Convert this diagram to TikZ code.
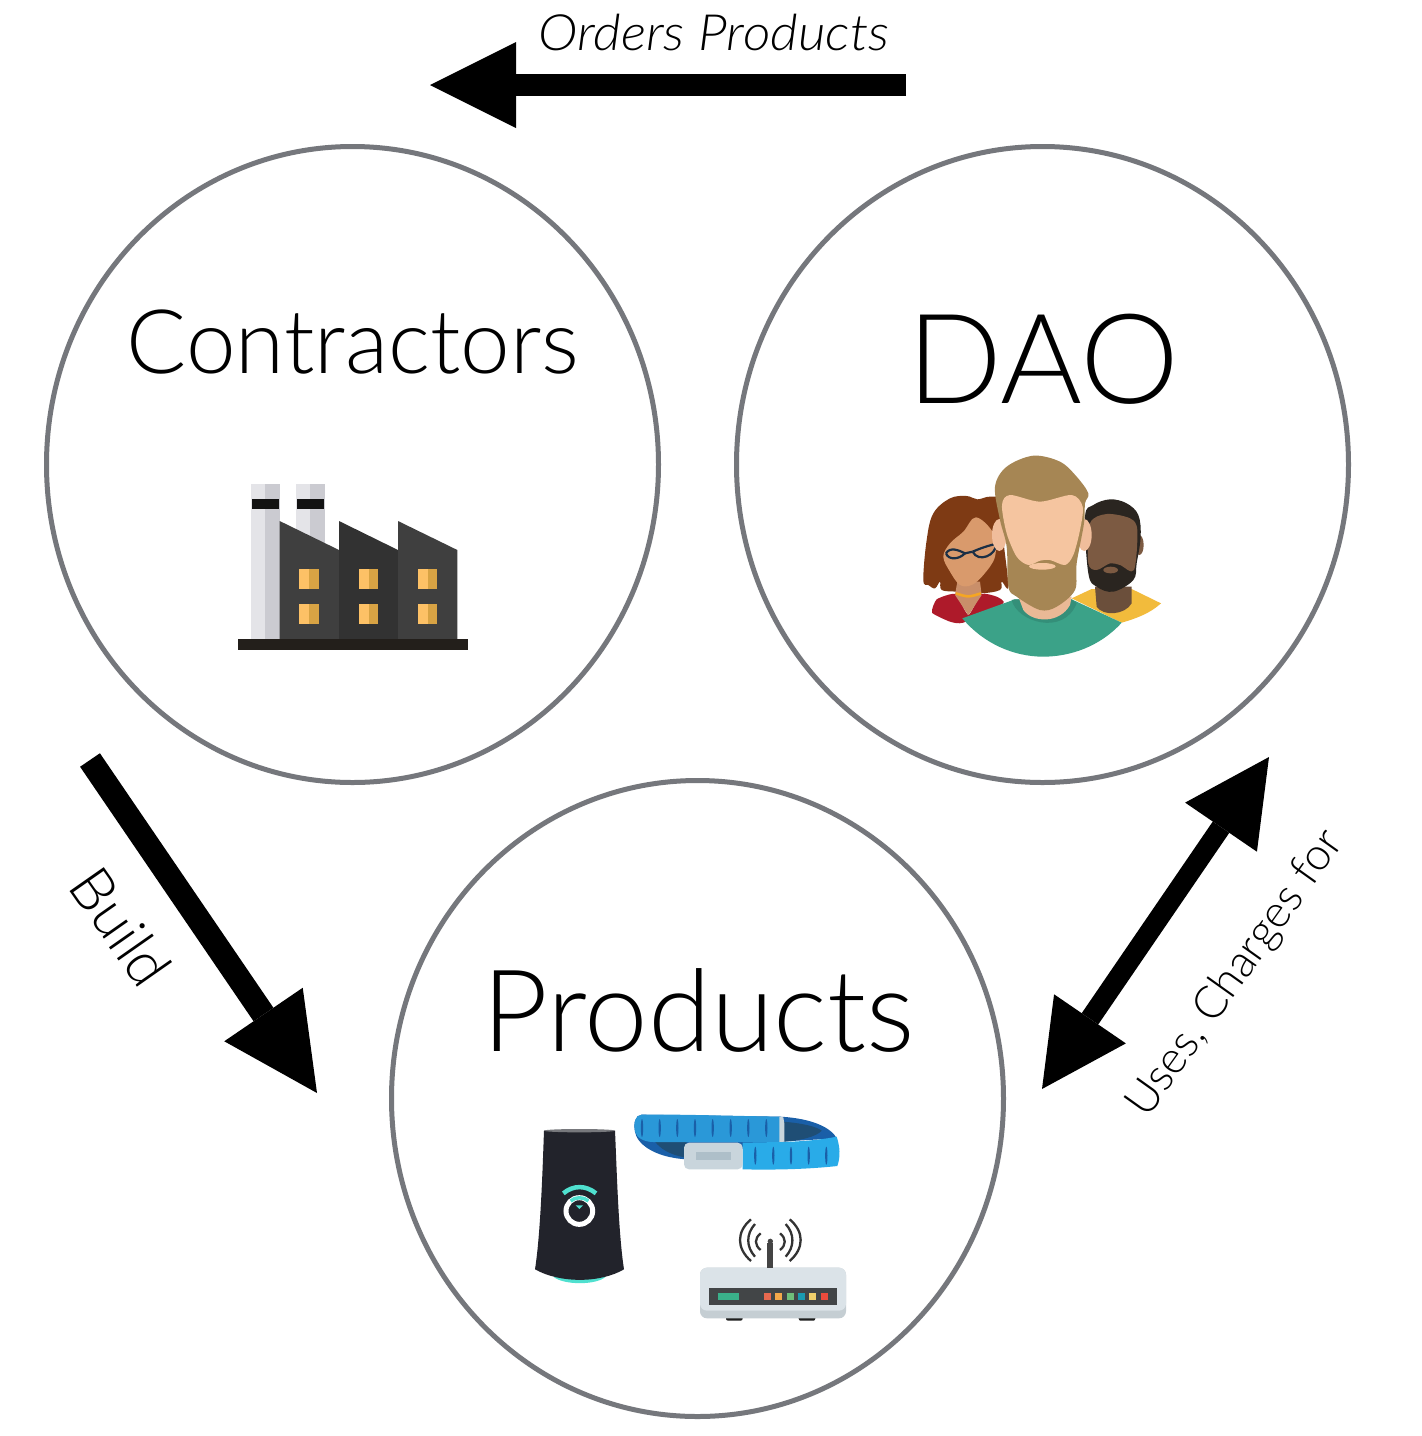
\documentclass[tikz,border=0pt]{standalone}
\usepackage{fontspec}
\setmainfont{Lato Light}
\usetikzlibrary{arrows.meta,shapes.geometric}
\definecolor{ring}{HTML}{75777C}
\definecolor{wface}{HTML}{D99A6C}
\tikzset{
 circ/.style={ellipse,draw=ring,line width=5pt,minimum width=612pt,minimum height=636pt,inner sep=0pt},
 bigarrow/.style={line width=#1,draw=black},
 lab/.style={inner sep=0pt,text=black},
 px/.style={shift={#1},scale=0.33333},
 hexc/.code={\definecolor{tmpc}{HTML}{#1}\pgfkeysalso{color=tmpc}},
}
\newcommand{\fs}[1]{\fontsize{#1}{#1}\selectfont}
\begin{document}
\begin{tikzpicture}[x=1pt,y=-1pt]
\useasboundingbox (0,0) rectangle (1422,1436);
\fill[white] (0,0) rectangle (1422,1436);
\node[circ] (contractors) at (352.5,464.5) {};
\node[circ] (dao) at (1042.5,464.5) {};
\node[circ] (products) at (697.5,1098.5) {};
\node[lab,anchor=base] (tcon) at (353,373) {\fs{89}Contractors};
\node[lab,anchor=base] (tdao) at (1043,403) {\fs{125}DAO};
\node[lab,anchor=base] (tpro) at (699,1051) {\fs{114}Products};
\node[lab] (torders) at (714,33) {\fs{50}\itshape\scalebox{1.07}[1]{Orders Products}};
\node[lab,rotate=-55] (tbuild) at (121,927) {\fs{59}Build};
\node[lab,rotate=54.5] (tuses) at (1236,974) {\fs{45}Uses, Charges for};
% arrows
\coordinate (a1) at (906,85); \coordinate (a2) at (430,85);
\coordinate (b1) at (90,760); \coordinate (b2) at (317,1093);
\coordinate (c1) at (1269,757); \coordinate (c2) at (1042,1089);
\draw[bigarrow=22pt,-{Triangle[length=86pt,width=86pt,line width=0pt]}] (a1) -- (a2);
\draw[bigarrow=24pt,-{Triangle[length=95pt,width=95pt,line width=0pt]}] (b1) -- (b2);
\draw[bigarrow=20pt,{Triangle[length=85pt,width=87pt,line width=0pt]}-{Triangle[length=85pt,width=87pt,line width=0pt]}] (c1) -- (c2);
% factory
\begin{scope}[px={(220,470)}]
 \foreach \x in {0,135}{
  \fill[hexc=E4E4E8] (93+\x,43) rectangle (136+\x,508);
  \fill[hexc=CBCBD1] (136+\x,43) rectangle (179+\x,508);
  \fill[hexc=121212] (95+\x,88) rectangle (178+\x,116);
 }
 \fill[hexc=3F3F3F] (179,153) -- (357,240) -- (357,508) -- (179,508) -- cycle;
 \fill[hexc=323232] (357,153) -- (534,240) -- (534,508) -- (357,508) -- cycle;
 \fill[hexc=3F3F3F] (534,153) -- (712,240) -- (712,508) -- (534,508) -- cycle;
 \fill[hexc=231F1B] (55,508) rectangle (743,541);
 \foreach \x in {0,177.5,355}\foreach \y in {297,403}{
  \fill[hexc=FDC166] (238+\x,\y) rectangle (268+\x,\y+59);
  \fill[hexc=D8A344] (268+\x,\y) rectangle (297+\x,\y+59);
 }
\end{scope}
% people
\begin{scope}[px={(900,440)}]
 % woman
 \fill[hexc=7E3A14] plot[smooth cycle,tension=0.6] coordinates {(70,420) (80,300) (100,220) (150,175) (200,168) (232,178) (270,170) (300,185) (310,300) (325,440) (305,425) (300,450) (240,460) (170,455) (125,450) (120,425) (105,445) (85,435)};
 \fill[hexc=C98F6A] (172,425) -- (240,425) -- (245,465) -- (205,525) -- (165,465) -- cycle;
 \fill[wface] plot[smooth cycle,tension=0.6] coordinates {(228,232) (190,275) (150,310) (130,350) (150,395) (180,435) (215,435) (250,405) (285,350) (280,280)};
 \fill[hexc=AE1A2A] plot[smooth cycle,tension=0.3] coordinates {(96,518) (110,478) (165,462) (205,525) (245,462) (290,470) (310,490) (190,548) (150,545)};
 \fill[hexc=C98F6A] (165,465) -- (245,465) -- (205,525) -- cycle;
 \draw[hexc=F5A623,line width=2.6pt] (167,460) .. controls (205,472) .. (243,460);
 \draw[hexc=1B2F45,line width=2.2pt] (138,340) .. controls (150,320) and (175,330) .. (195,340) .. controls (175,360) and (145,360) .. (138,340);
 \draw[hexc=1B2F45,line width=2.2pt] (218,335) .. controls (240,325) and (270,315) .. (288,312) .. controls (290,345) and (235,370) .. (218,335);
 \draw[hexc=1B2F45,line width=2.2pt] (195,340) -- (218,335);
 % dark man
 \fill[hexc=F2BB3C] (515,475) -- (575,447) -- (695,447) -- (783,490) .. controls (750,520) and (710,535) .. (665,548) -- cycle;
 \fill[hexc=6B4F3B] (585,440) -- (695,440) -- (695,490) .. controls (675,525) and (610,530) .. (590,500) -- cycle;
 \fill[hexc=7C5A42] (718,315) ellipse[x radius=13,y radius=30];
 \fill[hexc=2A2520] plot[smooth cycle,tension=0.6] coordinates {(555,230) (580,195) (630,178) (680,190) (715,225) (722,290) (710,370) (700,420) (640,455) (590,440) (565,400)};
 \fill[hexc=7C5A42] plot[smooth cycle,tension=0.5] coordinates {(570,250) (620,222) (690,235) (712,270) (702,390) (660,375) (630,370) (590,390) (565,370)};
 \fill[hexc=7C5A42] (632,390) ellipse[x radius=22,y radius=10];
 % main man
 \fill[hexc=3BA288] (187,535) -- (345,478) -- (515,478) -- (665,548) .. controls (600,620) and (510,650) .. (430,650) .. controls (340,650) and (250,610) .. (187,535) -- cycle;
 \fill[hexc=348F79] (335,480) .. controls (350,545) and (490,590) .. (530,490) -- (515,478) -- (345,478) -- cycle;
 \fill[hexc=EAB996] (355,470) -- (515,470) -- (510,495) .. controls (480,550) and (400,550) .. (370,510) -- cycle;
 \fill[hexc=F0BD9B] (298,285) ellipse[x radius=22,y radius=48];
 \fill[hexc=F0BD9B] (553,285) ellipse[x radius=22,y radius=48];
 \fill[hexc=A68654] plot[smooth cycle,tension=0.55] coordinates {(285,140) (320,80) (400,47) (480,65) (530,110) (565,160) (555,190) (552,250) (530,370) (525,450) (470,500) (420,510) (350,470) (325,440) (320,320) (300,240)};
 \fill[hexc=F5C5A0] plot[smooth cycle,tension=0.5] coordinates {(306,195) (330,165) (420,185) (515,165) (548,200) (540,270) (520,345) (495,375) (450,360) (420,362) (385,375) (350,350) (320,280)};
 \fill[hexc=F5C5A0] (427,379) ellipse[x radius=40,y radius=10];
\end{scope}
% speaker
\begin{scope}[px={(520,1100)}]
 \fill[hexc=4FE0CF] (100,530) .. controls (130,556) and (230,556) .. (257,530) -- cycle;
 \fill[hexc=22232B] (72,92) -- (285,92) .. controls (290,200) and (295,400) .. (312,508) .. controls (240,550) and (120,550) .. (45,508) .. controls (62,400) and (68,200) .. (72,92) -- cycle;
 \fill[hexc=77787C] (178,92) ellipse[x radius=106,y radius=5];
 \draw[white,line width=5pt] (178,333) circle[radius=40];
 \draw[hexc=4FE0CF,line width=4.5pt] (130,280) .. controls (160,255) and (197,255) .. (228,280);
 \draw[hexc=4FE0CF,line width=3.5pt] (152,303) .. controls (165,290) and (192,290) .. (205,303);
 \fill[hexc=4FE0CF] (167,316) -- (189,316) -- (178,327) -- cycle;
 % band
 \fill[hexc=1A5FA8] (345,95) .. controls (350,130) and (400,172) .. (500,178) -- (780,125) -- (950,115) .. controls (935,85) and (880,55) .. (780,50) -- (365,44) .. controls (345,45) and (340,70) .. (345,95) -- cycle;
 \fill[hexc=1F4E75] (790,65) .. controls (850,70) and (890,80) .. (905,92) .. controls (890,110) and (840,122) .. (790,125) -- cycle;
 \fill[hexc=1F4E75] (405,125) -- (500,125) -- (495,172) .. controls (450,165) and (420,145) .. (405,125) -- cycle;
 \fill[hexc=2A98D8] (365,44) .. controls (450,42) and (650,48) .. (780,50) -- (780,126) -- (400,126) .. controls (375,126) and (350,115) .. (345,95) .. controls (340,70) and (345,45) .. (365,44) -- cycle;
 \fill[hexc=29ABE8] (668,128) -- (780,126) .. controls (840,125) and (900,120) .. (950,110) .. controls (960,140) and (962,170) .. (952,198) .. controls (860,208) and (760,210) .. (668,208) -- cycle;
 \fill[hexc=C9D5DC,rounded corners=5pt] (492,128) -- (668,128) -- (668,208) -- (492,208) -- cycle;
 \fill[hexc=AEBFC9] (528,157) rectangle (632,180);
 \fill[hexc=C9D5DC] (778,50) -- (790,52) -- (793,70) -- (793,125) -- (778,126) -- cycle;
 \foreach \x in {366,419,472,525,578,632,685,739} \fill[hexc=1A5FA8] (\x,84) ellipse[x radius=3.5,y radius=27];
 \foreach \x in {706,760,813,866,919} \fill[hexc=1A5FA8] (\x,167) ellipse[x radius=3.5,y radius=27];
 % router
 \fill[hexc=1E1E1E,rounded corners=2pt] (618,645) rectangle (668,662);
 \fill[hexc=1E1E1E,rounded corners=2pt] (836,645) rectangle (886,662);
 \fill[hexc=C5CED3,rounded corners=7pt] (540,503) rectangle (978,655);
 \fill[hexc=DBE3E8,rounded corners=7pt] (540,503) rectangle (978,632);
 \fill[hexc=424547] (566,565) rectangle (952,614);
 \fill[hexc=3AB08A] (594,580) rectangle (656,600);
 \fill[hexc=E8694F] (731,580) rectangle (752,600);
 \fill[hexc=F4A84A] (766,580) rectangle (787,600);
 \fill[hexc=6FBF7A] (801,580) rectangle (821,600);
 \fill[hexc=1A9BB0] (835,580) rectangle (855,600);
 \fill[hexc=F0CF6B] (868,580) rectangle (889,600);
 \fill[hexc=EC4B3C] (903,580) rectangle (924,600);
 \draw[hexc=444444,line width=6pt] (751,503) -- (751,428);
 \fill[hexc=444444] (751,424) circle[radius=8];
 \foreach \a/\b/\c/\d/\e/\f in {693/358/649/395/445/483, 705/372/678/402/440/470, 722/400/703/415/435/450}{
  \draw[hexc=333333,line width=2.3pt] (\a,\b) .. controls (\c,\d) and (\c,\e) .. (\a,\f);
  \draw[hexc=333333,line width=2.3pt] (1502-\a,\b) .. controls (1502-\c,\d) and (1502-\c,\e) .. (1502-\a,\f);
 }
\end{scope}
\end{tikzpicture}
\end{document}
